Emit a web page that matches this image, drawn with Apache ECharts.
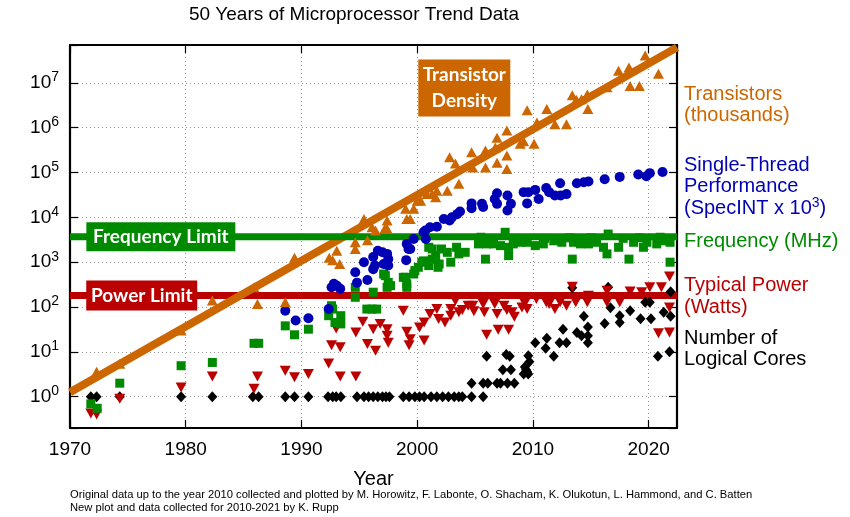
<!DOCTYPE html>
<html>
<head>
<meta charset="utf-8">
<script src="https://cdn.jsdelivr.net/npm/echarts@6/dist/echarts.min.js"></script>
<style>
  html, body { margin: 0; padding: 0; background: #fff; }
  #chart { width: 850px; height: 517px; }
</style>
</head>
<body>
<div id="chart"></div>
<script>
// ---- data: [year, value] ----
const yearTicks = [1970, 1980, 1990, 2000, 2010, 2020];
const powerTicks = [1, 10, 100, 1e3, 1e4, 1e5, 1e6, 1e7];

// Transistors (thousands)
const transistors = [
  [1972.3, 3.6], [1974.3, 5.4], [1979.6, 30], [1982.3, 140], [1985.9, 275], [1986.2, 117],
  [1988.6, 127], [1989.4, 1250], [1992.4, 1250], [1992.7, 1110], [1993.05, 1800], [1993.3, 910],
  [1994.65, 2780], [1994.65, 1970], [1995.4, 9200], [1995.7, 3100], [1996.1, 6000], [1996.4, 5100],
  [1997.2, 5600], [1997.4, 8500], [1997.4, 5600], [1999.0, 15500], [1999.1, 9200], [1999.4, 9200],
  [1999.7, 15500], [2000.0, 23500], [2000.3, 23500], [2000.85, 33000], [2001.3, 33000],
  [2001.6, 28000], [2001.7, 39000], [2002.6, 39000], [2002.8, 220000], [2003.3, 160000],
  [2003.6, 56000], [2004.7, 285000], [2004.8, 130000], [2005.9, 130000], [2005.9, 310000],
  [2006.75, 360000], [2006.9, 600000], [2006.9, 165000], [2007.75, 870000], [2007.75, 240000],
  [2007.75, 120000], [2008.9, 440000], [2009.2, 500000], [2009.5, 2450000], [2010.1, 440000],
  [2010.35, 1300000], [2011.2, 2600000], [2011.9, 1200000], [2012.9, 1200000], [2013.4, 5300000],
  [2013.75, 4200000], [2014.2, 4300000], [2014.7, 5500000], [2014.75, 2600000], [2016.4, 8000000],
  [2017.4, 18700000], [2018.3, 22000000], [2018.4, 8500000], [2019.2, 8500000],
  [2019.7, 41000000], [2020.85, 16000000]
];

// Single-thread performance (SpecINT x 10^3)
const performance = [
  [1988.6, 83], [1989.5, 50], [1990.6, 56], [1992.35, 90], [1992.6, 275], [1992.8, 330],
  [1993.05, 300], [1993.35, 255], [1994.65, 595], [1994.8, 350], [1995.4, 1000], [1995.7, 400],
  [1996.2, 1300], [1996.2, 700], [1996.35, 840], [1996.6, 1800], [1997.0, 1660], [1997.1, 910],
  [1997.4, 1530], [1997.5, 1170], [1997.5, 840], [1999.05, 1110], [1999.1, 2560], [1999.25, 1970],
  [1999.4, 1970], [1999.7, 3300], [2000.55, 4650], [2000.7, 5100], [2000.75, 3300], [2001.1, 6000],
  [2001.7, 6200], [2002.3, 9200], [2002.8, 8500], [2003.0, 10000], [2003.45, 11800], [2003.7, 13500],
  [2004.7, 20500], [2004.7, 16000], [2005.6, 20000], [2005.7, 17000], [2006.7, 25800],
  [2006.9, 34500], [2006.9, 20000], [2007.8, 30600], [2007.8, 14200], [2008.1, 20000],
  [2009.2, 36500], [2009.5, 20500], [2009.6, 36500], [2010.2, 41000], [2010.5, 25800],
  [2011.15, 45000], [2011.4, 36500], [2011.9, 30600], [2012.35, 57500], [2012.4, 30600],
  [2012.9, 33000], [2013.8, 57500], [2014.4, 60500], [2014.8, 63000], [2016.2, 71000],
  [2017.5, 80000], [2019.1, 90000], [2019.8, 83000], [2020.1, 97000], [2021.2, 103000]
];

// Clock frequency (MHz)
const frequency = [
  [1971.8, 0.69], [1972.35, 0.55], [1974.3, 2.0], [1979.6, 4.9], [1982.3, 5.8], [1985.9, 15.5],
  [1986.3, 15.5], [1988.6, 38], [1989.4, 24], [1990.6, 32], [1992.35, 64], [1992.6, 107],
  [1992.7, 90], [1992.9, 45], [1993.4, 64], [1993.4, 42], [1994.65, 275], [1994.65, 165],
  [1995.65, 90], [1996.1, 90], [1996.5, 90], [1996.2, 214], [1997.1, 545], [1997.25, 500],
  [1997.4, 275], [1997.5, 355], [1997.7, 300], [1998.8, 460], [1999.0, 460], [1999.1, 275],
  [1999.1, 330], [1999.7, 545], [1999.8, 650], [2000.1, 770], [2000.4, 1000], [2000.55, 1070],
  [2001.0, 2150], [2001.0, 840], [2001.3, 1170], [2001.3, 1970], [2001.6, 1400], [2001.8, 770],
  [2001.9, 910], [2002.1, 1970], [2002.6, 1660], [2002.9, 1000], [2003.4, 2150], [2003.6, 1530],
  [2004.15, 1660], [2005.3, 2560], [2005.5, 3600], [2005.9, 1170], [2006.0, 2560], [2006.6, 2560],
  [2007.2, 2340], [2007.6, 4650], [2007.9, 2150], [2007.9, 1400], [2008.3, 2560], [2008.7, 3400],
  [2008.9, 2780], [2009.5, 2780], [2010.2, 2340], [2010.9, 2560], [2011.0, 3400], [2011.8, 3000],
  [2012.5, 2780], [2013.2, 3500], [2013.4, 1170], [2013.5, 2780], [2014.1, 2560], [2014.8, 2560],
  [2015.0, 3500], [2015.5, 2780], [2016.1, 2150], [2016.4, 1530], [2016.5, 4250], [2017.4, 2150],
  [2017.8, 3400], [2018.3, 1170], [2018.7, 2780], [2019.2, 3500], [2019.55, 2150], [2019.85, 2780],
  [2020.7, 2560], [2021.0, 3600], [2021.3, 3000], [2021.85, 1000], [2021.85, 2780]
];

// Typical power (Watts)
const power = [
  [1971.8, 0.42], [1972.3, 0.4], [1974.3, 0.9], [1979.6, 1.6], [1982.3, 2.8], [1985.9, 1.5],
  [1986.2, 2.8], [1988.6, 3.8], [1989.4, 2.7], [1990.6, 3.2], [1992.35, 5.5], [1992.6, 14],
  [1993.0, 33], [1993.35, 12.6], [1993.35, 2.8], [1994.7, 2.8], [1994.7, 27], [1995.3, 47],
  [1995.7, 15], [1996.2, 32], [1996.4, 10.6], [1996.8, 42], [1997.4, 32], [1997.4, 23],
  [1997.5, 16], [1998.8, 83], [1999.1, 28], [1999.3, 14], [1999.4, 19], [2000.2, 35],
  [2000.6, 45], [2000.6, 18], [2001.1, 70], [2001.7, 90], [2001.85, 54], [2002.4, 45],
  [2002.9, 90], [2002.9, 64], [2003.3, 138], [2003.6, 76], [2003.9, 86], [2004.4, 107],
  [2004.8, 107], [2004.9, 80], [2005.7, 117], [2005.8, 76], [2006.0, 24], [2006.7, 117],
  [2006.9, 70], [2007.0, 31], [2007.5, 107], [2007.75, 86], [2007.9, 31], [2008.2, 76],
  [2008.4, 61], [2009.05, 98], [2009.3, 120], [2009.5, 90], [2010.3, 150], [2011.15, 127],
  [2011.4, 117], [2011.9, 90], [2012.35, 127], [2012.9, 107], [2013.4, 285], [2013.7, 127],
  [2014.7, 127], [2014.8, 179], [2016.4, 230], [2016.4, 127], [2017.5, 127], [2018.4, 222],
  [2019.4, 214], [2020.1, 275], [2020.85, 26], [2021.1, 275], [2021.8, 27], [2021.8, 98],
  [2021.8, 480]
];

// Number of logical cores
const cores = [
  [1971.8, 1], [1972.3, 1], [1974.3, 1], [1979.6, 1], [1982.3, 1], [1985.8, 1], [1986.3, 1],
  [1988.6, 1], [1989.4, 1], [1990.6, 1], [1992.3, 1], [1992.7, 1], [1993.0, 1], [1993.4, 1],
  [1994.8, 1], [1995.4, 1], [1995.8, 1], [1996.2, 1], [1996.6, 1], [1997.0, 1], [1997.3, 1],
  [1997.6, 1], [1998.8, 1], [1999.3, 1], [1999.8, 1], [2000.2, 1], [2000.6, 1], [2001.2, 1],
  [2001.7, 1], [2002.2, 1], [2002.7, 1], [2003.2, 1], [2003.6, 1], [2003.9, 1], [2004.7, 1],
  [2005.7, 1],
  [2004.7, 2], [2005.7, 2], [2006.1, 2], [2006.9, 2], [2007.2, 2], [2007.8, 2], [2008.4, 2],
  [2007.4, 4], [2008.1, 4], [2009.2, 3.2], [2009.4, 4], [2009.5, 3.6], [2009.3, 4.6], [2009.6, 3.2],
  [2006.0, 8], [2007.7, 8.7], [2008.0, 8], [2009.6, 8.2], [2009.7, 6],
  [2010.2, 16], [2011.1, 12], [2011.2, 20], [2011.8, 8], [2012.3, 16], [2012.6, 32], [2012.9, 16],
  [2013.4, 270], [2013.8, 27], [2014.2, 23], [2014.4, 62], [2014.75, 36], [2014.75, 23],
  [2014.75, 16], [2016.2, 43], [2016.5, 275], [2016.7, 96], [2017.5, 64], [2017.5, 45],
  [2018.4, 83], [2019.3, 55], [2019.7, 127], [2020.1, 127], [2020.2, 55], [2020.8, 8],
  [2021.3, 76], [2021.8, 10], [2021.9, 62], [2021.9, 220]
];

// Trend and limit lines
const transistorTrend = [[1970, 1.25], [2022.45, 6.2e7]];
const frequencyLimit = [[1970, 3700], [2022.45, 3700]];
const powerLimit = [[1970, 180], [2022.45, 180]];

// Text on the right of the plot
const sideLabels = [
  { lines: ['Transistors', '(thousands)'], key: 'orange' },
  { lines: ['Single-Thread', 'Performance', '(SpecINT x 10{s|3})'], key: 'blue' },
  { lines: ['Frequency (MHz)'], key: 'green' },
  { lines: ['Typical Power', '(Watts)'], key: 'red' },
  { lines: ['Number of', 'Logical Cores'], key: 'black' }
];
const footnotes = [
  'Original data up to the year 2010 collected and plotted by M. Horowitz, F. Labonte, O. Shacham, K. Olukotun, L. Hammond, and C. Batten',
  'New plot and data collected for 2010-2021 by K. Rupp'
];

// ---- styling ----
const COLORS = { orange: '#cc6600', blue: '#0000b4', green: '#008a00', red: '#bb0000', black: '#000000' };
const FONT = '"Liberation Sans", Arial, Helvetica, sans-serif';
const BOX_FONT = 'Lato, "Open Sans", sans-serif';
const X_MIN = 1970, X_MAX = 2022.45, Y_MIN = 0.2, Y_MAX = 7e7;

const chart = echarts.init(document.getElementById('chart'), null, { renderer: 'canvas' });

const sideTop = { orange: 94, blue: 165, green: 241, red: 285.7, black: 338.3 };
const sideGraphics = [];
sideLabels.forEach(function (block) {
  block.lines.forEach(function (line, i) {
    sideGraphics.push({
      type: 'text', x: 684, y: sideTop[block.key] + i * 21.5,
      style: {
        text: line, fill: COLORS[block.key], font: '20px ' + FONT,
        verticalAlign: 'middle', align: 'left',
        rich: { s: { fontSize: 14, fill: COLORS[block.key], fontFamily: FONT, padding: [0, 0, 10, 0] } }
      }
    });
  });
});
footnotes.forEach(function (t, i) {
  sideGraphics.push({
    type: 'text', x: 70, y: 495 + i * 12.5,
    style: { text: t, fill: '#000', font: '11.2px ' + FONT, verticalAlign: 'middle', align: 'left' }
  });
});
sideGraphics.push({
  type: 'text', x: 354, y: 15,
  style: { text: '50 Years of Microprocessor Trend Data', fill: '#000', font: '19px ' + FONT,
           verticalAlign: 'middle', align: 'center' }
});

function powerLabel(v) {
  const e = Math.log10(v);
  if (Math.abs(e - Math.round(e)) > 1e-6) return '';
  return '{b|10}{s|' + Math.round(e) + '}';
}

const dotted = { show: true, lineStyle: { color: '#9a9a9a', width: 1, type: [1, 3] } };
const tick = { show: true, inside: true, length: 8, lineStyle: { color: '#000', width: 1.2 } };
const axisLine = { show: true, lineStyle: { color: '#000', width: 2.2 } };

function boxPoint(coord, w, h, text, color, lh) {
  return {
    coord: coord, symbol: 'rect', symbolSize: [w, h],
    itemStyle: { color: color },
    label: {
      show: true, position: 'inside', formatter: text, color: '#fff',
      fontFamily: BOX_FONT, fontWeight: 'bold', fontSize: 19, lineHeight: lh || 22
    }
  };
}

function pointStyle(color) { return { color: color, opacity: 1 }; }

const option = {
  animation: false,
  backgroundColor: '#fff',
  grid: { left: 70, right: 173, top: 45, bottom: 89, show: false },
  xAxis: [
    {
      type: 'value', min: X_MIN, max: X_MAX, interval: 10, position: 'bottom',
      name: 'Year', nameLocation: 'middle', nameGap: 41,
      nameTextStyle: { fontSize: 20, color: '#000', fontFamily: FONT },
      axisLine: axisLine, axisTick: tick, splitLine: dotted,
      axisLabel: { color: '#000', fontSize: 19, fontFamily: FONT, margin: 12, showMaxLabel: false,
                   formatter: function (v) { return yearTicks.indexOf(v) >= 0 ? String(v) : ''; } }
    },
    {
      type: 'value', min: X_MIN, max: X_MAX, interval: 10, position: 'top',
      axisLine: axisLine, axisTick: tick, splitLine: { show: false }, axisLabel: { show: false }
    }
  ],
  yAxis: [
    {
      type: 'log', logBase: 10, min: Y_MIN, max: Y_MAX, position: 'left',
      axisLine: axisLine, axisTick: tick, splitLine: dotted,
      axisLabel: {
        margin: 11, formatter: powerLabel,
        rich: {
          b: { fontSize: 19, color: '#000', fontFamily: FONT },
          s: { fontSize: 14, color: '#000', fontFamily: FONT, padding: [0, 0, 11, 0] }
        }
      }
    },
    {
      type: 'log', logBase: 10, min: Y_MIN, max: Y_MAX, position: 'right',
      axisLine: axisLine, axisTick: tick, splitLine: { show: false }, axisLabel: { show: false }
    }
  ],
  graphic: sideGraphics,
  series: [
    { type: 'scatter', name: 'Number of Logical Cores', data: cores, symbol: 'diamond',
      symbolSize: [10, 11], itemStyle: pointStyle(COLORS.black), z: 3 },
    { type: 'scatter', name: 'Typical Power', data: power, symbol: 'triangle', symbolRotate: 180,
      symbolSize: [11, 10], itemStyle: pointStyle(COLORS.red), z: 3 },
    { type: 'scatter', name: 'Frequency', data: frequency, symbol: 'rect',
      symbolSize: 9, itemStyle: pointStyle(COLORS.green), z: 3 },
    { type: 'scatter', name: 'Single-Thread Performance', data: performance, symbol: 'circle',
      symbolSize: 10, itemStyle: pointStyle(COLORS.blue), z: 3 },
    { type: 'scatter', name: 'Transistors', data: transistors, symbol: 'triangle',
      symbolSize: [11, 10], itemStyle: pointStyle(COLORS.orange), z: 3 },
    { type: 'line', name: 'Power Limit', data: powerLimit, showSymbol: false, symbol: 'none', z: 2,
      lineStyle: { color: COLORS.red, width: 7 },
      markPoint: { z: 6, data: [boxPoint([1976.2, 180], 111, 30, 'Power Limit', COLORS.red)] } },
    { type: 'line', name: 'Transistor Density', data: transistorTrend, showSymbol: false, symbol: 'none', z: 2,
      lineStyle: { color: COLORS.orange, width: 8 },
      markPoint: { z: 6, data: [boxPoint([2004.07, 7.7e6], 92, 57, 'Transistor\nDensity', COLORS.orange, 26)] } },
    { type: 'line', name: 'Frequency Limit', data: frequencyLimit, showSymbol: false, symbol: 'none', z: 2,
      lineStyle: { color: COLORS.green, width: 7 },
      markPoint: { z: 6, data: [boxPoint([1977.85, 3700], 149, 29, 'Frequency Limit', COLORS.green)] } }
  ]
};

chart.setOption(option);
</script>
</body>
</html>
